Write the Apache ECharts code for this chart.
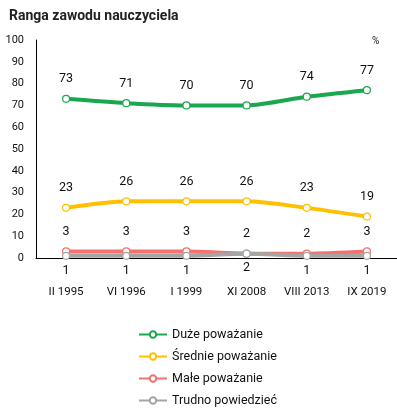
<!DOCTYPE html>
<html><head><meta charset="utf-8">
<script src="https://cdn.jsdelivr.net/npm/echarts@6/dist/echarts.min.js"></script>
<style>html,body{margin:0;padding:0;background:#fff}#c{width:397px;height:416px}</style>
</head><body><div id="c"></div>
<script>
const categories = ['II 1995','VI 1996','I 1999','XI 2008','VIII 2013','IX 2019'];
const duze = [73,71,70,70,74,77];
const srednie = [23,26,26,26,23,19];
const male = [3,3,3,2,2,3];
const trudno = [1,1,1,2,1,1];
const yTicks = [0,10,20,30,40,50,60,70,80,90,100];

const font = 'Roboto, "Liberation Sans", sans-serif';
function mk(name, data, color, pos, dist, z){
  return {name, type:'line', data, smooth:0.25, z,
    lineStyle:{color, width:4},
    itemStyle:{color:'#fff', borderColor:color, borderWidth:1.2},
    symbol:'circle', symbolSize:7,
    label:{show:true, position:pos, distance:dist, color:'#111', fontSize:12.5, fontFamily:font},
    emphasis:{disabled:true}};
}
const chart = echarts.init(document.getElementById('c'));
chart.setOption({
  animation:false,
  color:['#1aa84e','#ffc000','#f4716f','#a5a5a5'],
  title:{text:'Ranga zawodu nauczyciela', left:4, top:4, textStyle:{fontSize:14, fontWeight:'bold', color:'#222', fontFamily:font}},
  graphic:[{type:'text', left:372, top:36, style:{text:'%', fontSize:10, fill:'#222', fontFamily:font}}],
  grid:{left:36, right:0, top:40, bottom:158},
  xAxis:{type:'category', data:categories, boundaryGap:true,
    axisLine:{lineStyle:{color:'#000'}}, axisTick:{show:false},
    axisLabel:{margin:28, fontSize:11.5, color:'#111', fontFamily:font}},
  yAxis:{type:'value', min:0, max:100, interval:10,
    axisLine:{show:true, lineStyle:{color:'#000'}}, axisTick:{show:false}, splitLine:{show:false},
    axisLabel:{fontSize:11, color:'#111', fontFamily:font, margin:12,
      formatter:v=>yTicks.includes(v)?String(v):''}},
  legend:{orient:'vertical', left:133, top:323, itemGap:9, itemWidth:28, itemHeight:8,
    textStyle:{fontSize:12.5, color:'#111', fontFamily:font},
    data:['Duże poważanie','Średnie poważanie','Małe poważanie','Trudno powiedzieć']},
  series:[
    mk('Duże poważanie', duze, '#1aa84e','top',9,4),
    mk('Średnie poważanie', srednie, '#ffc000','top',9,4),
    mk('Małe poważanie', male, '#f4716f','top',9,2),
    mk('Trudno powiedzieć', trudno, '#a5a5a5','bottom',4,3)
  ]
});
</script></body></html>
